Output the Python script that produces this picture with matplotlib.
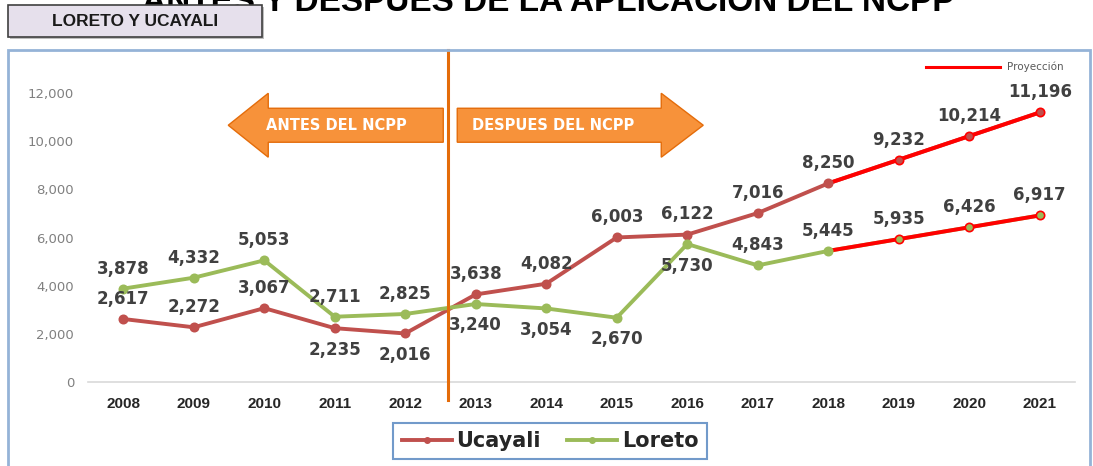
import matplotlib
matplotlib.use("Agg")
import matplotlib.pyplot as plt
from matplotlib.patches import Rectangle, Polygon
from matplotlib.lines import Line2D

years = [2008, 2009, 2010, 2011, 2012, 2013, 2014, 2015, 2016, 2017, 2018, 2019, 2020, 2021]
ucayali = [2617, 2272, 3067, 2235, 2016, 3638, 4082, 6003, 6122, 7016, 8250, 9232, 10214, 11196]
loreto = [3878, 4332, 5053, 2711, 2825, 3240, 3054, 2670, 5730, 4843, 5445, 5935, 6426, 6917]
ucayali_pos = ['a', 'a', 'a', 'b', 'b', 'a', 'a', 'a', 'a', 'a', 'a', 'a', 'a', 'a']
loreto_pos = ['a', 'a', 'a', 'a', 'a', 'b', 'b', 'b', 'b', 'a', 'a', 'a', 'a', 'a']
proj_start = 2018
yticks = [0, 2000, 4000, 6000, 8000, 10000, 12000]

C_UCA = '#C0504D'
C_LOR = '#9BBB59'
C_PROJ = '#FF0000'
C_ORANGE = '#F7923A'

W, H = 1093, 466
fig = plt.figure(figsize=(W / 100, H / 100), dpi=100)

def fx(px):
    return px / W

def fy(py):
    return 1 - py / H

# outer chart frame
fig.add_artist(Rectangle((fx(8), fy(470)), fx(1090) - fx(8), fy(50) - fy(470),
                         transform=fig.transFigure, fill=False,
                         edgecolor='#95B3D7', lw=2))

ax = fig.add_axes([fx(88), fy(382), fx(1075) - fx(88), fy(69) - fy(382)])
ax.set_xlim(years[0] - 0.5, years[-1] + 0.5)
ax.set_ylim(0, 13000)
for s in ['top', 'right', 'left']:
    ax.spines[s].set_visible(False)
ax.spines['bottom'].set_color('#D9D9D9')
ax.spines['bottom'].set_linewidth(1.2)
ax.set_yticks(yticks)
ax.set_yticklabels([f"{v:,}" for v in yticks], color='#808080', fontsize=9.5,
                   family='DejaVu Sans')
ax.set_xticks(years)
ax.set_xticklabels([str(y) for y in years], fontsize=11, fontweight='bold',
                   color='#262626', family='Liberation Sans')
ax.tick_params(axis='both', length=0)
ax.tick_params(axis='y', pad=10)
ax.tick_params(axis='x', pad=11)

# series lines
ax.plot(years, ucayali, color=C_UCA, lw=2.8, zorder=3)
ax.plot(years, loreto, color=C_LOR, lw=2.8, zorder=3)
i0 = years.index(proj_start)
ax.plot(years[i0:], ucayali[i0:], color=C_PROJ, lw=2.8, zorder=4)
ax.plot(years[i0:], loreto[i0:], color=C_PROJ, lw=2.8, zorder=4)
for i, y in enumerate(years):
    ec_u = C_PROJ if y > proj_start else C_UCA
    ec_l = C_PROJ if y > proj_start else C_LOR
    ax.plot([y], [ucayali[i]], marker='o', ms=6, color=C_UCA, mec=ec_u, mew=1.2, zorder=5)
    ax.plot([y], [loreto[i]], marker='o', ms=6, color=C_LOR, mec=ec_l, mew=1.2, zorder=5)

# data labels
def label(vals, pos):
    for x, v, p in zip(years, vals, pos):
        off = 8 if p == 'a' else -9
        va = 'bottom' if p == 'a' else 'top'
        ax.annotate(f"{v:,}", (x, v), xytext=(0, off), textcoords='offset points',
                    ha='center', va=va, fontsize=12, fontweight='bold',
                    color='#404040', family='DejaVu Sans', zorder=6)

label(ucayali, ucayali_pos)
label(loreto, loreto_pos)

# vertical divider
xdiv = 2012.6
ax.plot([xdiv, xdiv], [-750, 13800], color='#E46C0A', lw=2.2, clip_on=False, zorder=7)

# arrows (data coords)
def dy(py):
    return (382 - py) / 48.2 * 2000

def dx(px):
    return 2008 + (px - 123) / 70.5

left_arrow = [(dx(228), dy(125)), (dx(268), dy(93)), (dx(268), dy(108)), (dx(443), dy(108)),
              (dx(443), dy(142)), (dx(268), dy(142)), (dx(268), dy(157))]
right_arrow = [(dx(703), dy(125)), (dx(661), dy(93)), (dx(661), dy(108)), (dx(457), dy(108)),
               (dx(457), dy(142)), (dx(661), dy(142)), (dx(661), dy(157))]
for pts in (left_arrow, right_arrow):
    ax.add_patch(Polygon(pts, closed=True, facecolor=C_ORANGE, edgecolor='#E46C0A',
                         lw=1, zorder=2, clip_on=False))
ax.text(dx(336), dy(125), "ANTES DEL NCPP", color='white', fontsize=10.5, fontweight='bold',
        ha='center', va='center', family='DejaVu Sans', zorder=3)
ax.text(dx(553), dy(125), "DESPUES DEL NCPP", color='white', fontsize=10.5, fontweight='bold',
        ha='center', va='center', family='DejaVu Sans', zorder=3)

# projection legend
fig.add_artist(Line2D([fx(926), fx(1000)], [fy(67), fy(67)], color=C_PROJ, lw=2.2,
                      transform=fig.transFigure))
fig.text(fx(1007), fy(67), "Proyección", fontsize=7.5, color='#595959', va='center',
         ha='left', family='DejaVu Sans')

# main legend
handles = [Line2D([0], [0], color=C_UCA, lw=2.8, marker='o', ms=4),
           Line2D([0], [0], color=C_LOR, lw=2.8, marker='o', ms=4)]
leg = fig.legend(handles, ['Ucayali', 'Loreto'], loc='center', bbox_to_anchor=(fx(550), fy(441)),
                 ncol=2, frameon=True, fancybox=False, handlelength=2.4, handletextpad=0.2,
                 columnspacing=1.3, borderpad=0.4,
                 prop={'weight': 'bold', 'size': 15, 'family': 'DejaVu Sans'})
leg.get_frame().set_edgecolor('#4F81BD')
leg.get_frame().set_linewidth(1.5)
for t in leg.get_texts():
    t.set_color('#262626')

# title (partially cut at top of the image, as in the reference)
fig.text(fx(548), fy(11), "ANTES Y DESPUES DE LA APLICACION DEL NCPP", ha='center',
         va='baseline', fontsize=24, fontweight='bold', color='black', family='Liberation Sans',
         zorder=4)

# region label box
fig.add_artist(Rectangle((fx(10), fy(39)), fx(264) - fx(10), fy(7) - fy(39),
                         transform=fig.transFigure, facecolor='#7F7F7F', edgecolor='none',
                         alpha=0.5, zorder=5))
fig.add_artist(Rectangle((fx(8), fy(37)), fx(262) - fx(8), fy(5) - fy(37),
                         transform=fig.transFigure, facecolor='#E6E0EC', edgecolor='#404040',
                         lw=1.2, zorder=6))
fig.text(fx(135), fy(21), "LORETO Y UCAYALI", ha='center', va='center', fontsize=12.5,
         fontweight='bold', color='#1a1a1a', family='Liberation Sans', zorder=7)

fig.savefig('out.png', dpi=100)
